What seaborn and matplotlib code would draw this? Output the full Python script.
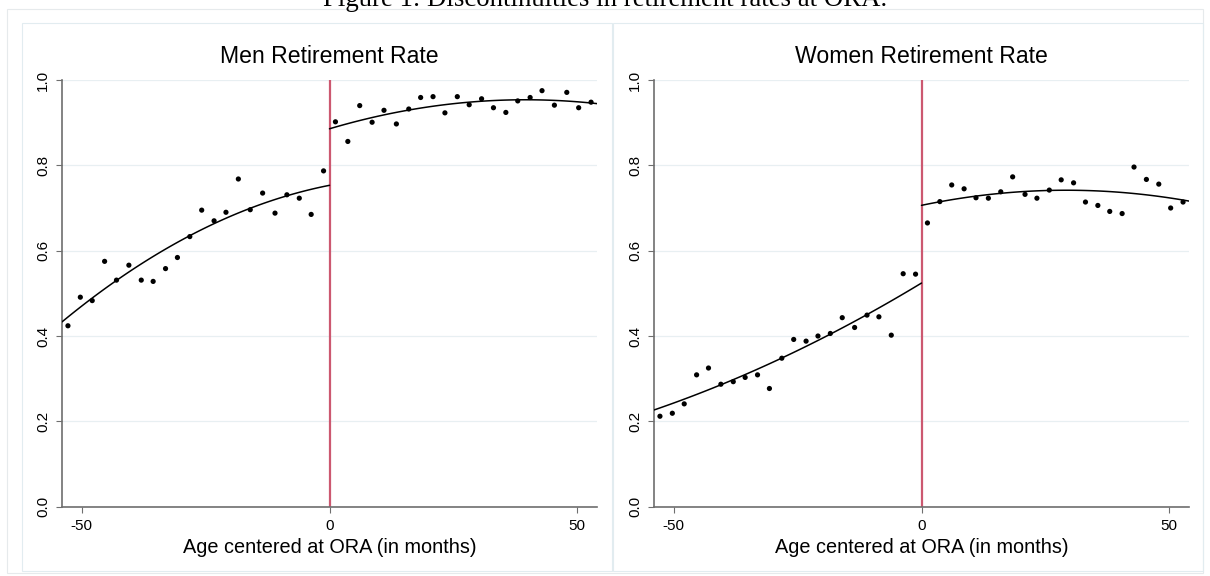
import numpy as np
import pandas as pd
import matplotlib
matplotlib.use("Agg")
import matplotlib.pyplot as plt
from matplotlib.patches import Rectangle
import seaborn as sns

#---------- Dados ----------

# centro dos bins (meses em relação à ORA)
months_before = [-52.8, -50.3, -47.9, -45.4, -43.0, -40.5, -38.0, -35.6, -33.1, -30.7, -28.2,
                 -25.8, -23.3, -20.9, -18.4, -16.0, -13.5, -11.0, -8.6, -6.1, -3.7, -1.2]
months_after = [1.2, 3.7, 6.1, 8.6, 11.0, 13.5, 16.0, 18.4, 20.9, 23.3, 25.8,
                28.2, 30.7, 33.1, 35.6, 38.0, 40.5, 42.9, 45.4, 47.9, 50.3, 52.8]

men_before = [0.424, 0.491, 0.483, 0.575, 0.531, 0.566, 0.531, 0.528, 0.558, 0.584, 0.633,
              0.695, 0.670, 0.690, 0.768, 0.696, 0.735, 0.688, 0.731, 0.723, 0.685, 0.787]
men_after = [0.902, 0.856, 0.940, 0.901, 0.929, 0.897, 0.932, 0.959, 0.961, 0.923, 0.961,
             0.942, 0.956, 0.935, 0.924, 0.951, 0.959, 0.975, 0.941, 0.971, 0.935, 0.948]

women_before = [0.212, 0.219, 0.241, 0.309, 0.325, 0.287, 0.293, 0.303, 0.309, 0.277, 0.348,
                0.392, 0.388, 0.400, 0.406, 0.443, 0.420, 0.449, 0.445, 0.402, 0.546, 0.545]
women_after = [0.665, 0.715, 0.754, 0.745, 0.724, 0.723, 0.738, 0.773, 0.732, 0.723, 0.742,
               0.766, 0.759, 0.714, 0.706, 0.692, 0.687, 0.796, 0.767, 0.756, 0.700, 0.714]

panel_titles = ["Men Retirement Rate", "Women Retirement Rate"]
x_label = "Age centered at ORA (in months)"
fig_title = "Figure 1: Discontinuities in retirement rates at ORA."
x_ticks = [-50, 0, 50]
y_ticks = [0.0, 0.2, 0.4, 0.6, 0.8, 1.0]
x_min, x_max = -54, 54

#---------- Estilo ----------
sns.set_theme(style="white")
plt.rcParams['font.family'] = ['Liberation Sans', 'DejaVu Sans']
plt.rcParams['axes.unicode_minus'] = False

spine_col = "#6e6e6e"
grid_col = "#e8eff2"
red_col = "#cc5870"

fig = plt.figure(figsize=(12.1, 5.76), dpi=100)

# caixas de fundo (estilo Stata)
fig.add_artist(Rectangle((7 / 1210, 3 / 576), 1196 / 1210, 564 / 576, transform=fig.transFigure,
                         fill=False, edgecolor="#e6eaec", lw=0.8))
fig.add_artist(Rectangle((21.7 / 1210, 5.3 / 576), 590 / 1210, 548 / 576, transform=fig.transFigure,
                         fill=False, edgecolor="#e2ecf0", lw=0.8))
fig.add_artist(Rectangle((613 / 1210, 5.3 / 576), 589.5 / 1210, 548 / 576, transform=fig.transFigure,
                         fill=False, edgecolor="#e2ecf0", lw=0.8))

fig.text(0.5, 1 - 6.5 / 576, fig_title, ha='center', va='baseline',
         fontsize=19.3, family=['Liberation Serif', 'DejaVu Serif'], color='black')

axes_pos = [[62 / 1210, 69.3 / 576, 535 / 1210, 426.7 / 576],
            [654 / 1210, 69.3 / 576, 535 / 1210, 426.7 / 576]]

series = [(men_before, men_after), (women_before, women_after)]

for pos, title, (y_b, y_a) in zip(axes_pos, panel_titles, series):
    ax = fig.add_axes(pos)
    df = pd.DataFrame({
        'month': months_before + months_after,
        'rate': y_b + y_a,
    })

    for ytk in y_ticks:
        ax.axhline(ytk, color=grid_col, lw=0.9, zorder=0)

    # ajuste quadrático de cada lado do corte
    for xs, ys, lo, hi in [(months_before, y_b, x_min, 0), (months_after, y_a, 0, x_max)]:
        coef = np.polyfit(xs, ys, 2)
        grid = np.linspace(lo, hi, 100)
        sns.lineplot(x=grid, y=np.polyval(coef, grid), ax=ax, color='black', lw=1.1, zorder=3)

    sns.scatterplot(data=df, x='month', y='rate', ax=ax, color='black', s=14,
                    edgecolor='none', zorder=4)

    ax.axvline(0, color=red_col, lw=1.6, zorder=2)

    ax.set_xlim(x_min, x_max)
    ax.set_ylim(0, 1)
    ax.set_xticks(x_ticks)
    ax.set_yticks(y_ticks)
    ax.set_yticklabels([f"{v:.1f}" for v in y_ticks], rotation=90, va='center')
    ax.tick_params(axis='both', direction='out', length=4.5, width=0.8, color=spine_col,
                   labelsize=11, pad=4, labelcolor='black')
    ax.tick_params(axis='x', bottom=True)
    ax.tick_params(axis='y', left=True)
    ax.set_xlabel(x_label, fontsize=14.3, labelpad=4, color='black')
    ax.set_ylabel("")
    ax.set_title(title, fontsize=16.6, pad=12, color='black')

    for side in ['top', 'right']:
        ax.spines[side].set_visible(False)
    for side in ['left', 'bottom']:
        ax.spines[side].set_color(spine_col)
        ax.spines[side].set_linewidth(1.2)

plt.savefig("out.png", dpi=100)
